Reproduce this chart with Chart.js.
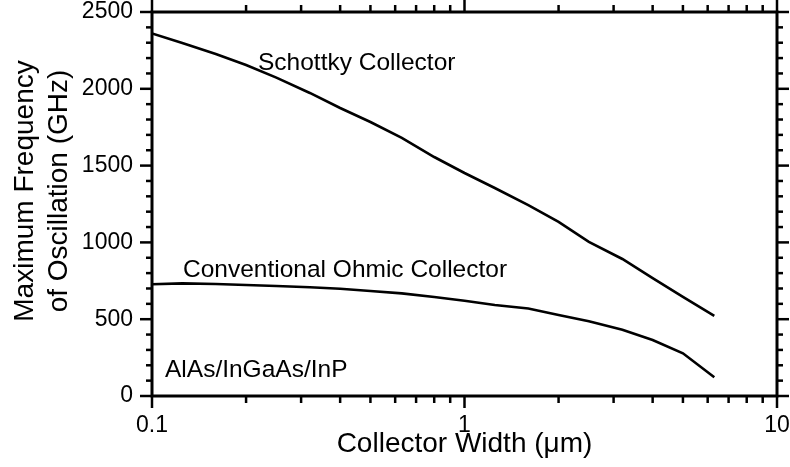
<!DOCTYPE html>
<html>
<head>
<meta charset="utf-8">
<script src="https://cdn.jsdelivr.net/npm/chart.js@4.4.1/dist/chart.umd.min.js"></script>
<style>
  html, body { margin: 0; padding: 0; background: #fff; }
  #wrap { width: 790px; height: 467px; }
</style>
</head>
<body>
<div id="wrap"><canvas id="c" width="790" height="467"></canvas></div>
<script>
// ---- data ----
const collectorWidth = [0.1, 0.125, 0.16, 0.2, 0.25, 0.32, 0.4, 0.5, 0.63, 0.8, 1.0, 1.25, 1.6, 2.0, 2.5, 3.2, 4.0, 5.0, 6.3];
const schottkyFmax   = [2360, 2298, 2227, 2155, 2073, 1973, 1875, 1784, 1680, 1556, 1452, 1354, 1243, 1133, 1003, 892, 768, 645, 521];
const ohmicFmax      = [728, 733, 729, 723, 716, 708, 698, 684, 668, 645, 620, 592, 570, 527, 487, 432, 365, 278, 122];
const xTickLabels = [0.1, 1, 10];
const yTickLabels = [0, 500, 1000, 1500, 2000, 2500];
const seriesNames = ['Schottky Collector', 'Conventional Ohmic Collector'];
const materialLabel = 'AlAs/InGaAs/InP';
const xTitle = 'Collector Width (\u03bcm)';
const yTitleLines = ['Maximum Frequency', 'of Oscillation (GHz)'];

const FONT = '"Liberation Sans", Arial, Helvetica, sans-serif';

function pts(xs, ys) { return xs.map((x, i) => ({ x: x, y: ys[i] })); }
function noPad(s) { s.paddingTop = 0; s.paddingBottom = 0; s.paddingLeft = 0; s.paddingRight = 0; }

const framePlugin = {
  id: 'framePlugin',
  afterDraw(chart) {
    const { ctx, chartArea: a } = chart;
    const x = chart.scales.x, y = chart.scales.y;
    ctx.save();
    ctx.strokeStyle = '#000';
    ctx.lineCap = 'butt';
    function seg(x1, y1, x2, y2) { ctx.beginPath(); ctx.moveTo(x1, y1); ctx.lineTo(x2, y2); ctx.stroke(); }
    // ticks
    ctx.lineWidth = 2.5;
    const yMax = yTickLabels[yTickLabels.length - 1];
    const yStep = yTickLabels[1] - yTickLabels[0];
    for (let v = 0; v <= yMax; v += yStep / 5) {
      const py = y.getPixelForValue(v);
      const major = Math.abs(v % yStep) < 1e-6;
      const len = major ? 12 : 6;
      seg(a.left - len, py, a.left, py);
      seg(a.right, py, a.right + len, py);
    }
    for (let d = 0; d < xTickLabels.length; d++) {
      const base = xTickLabels[d];
      const kmax = d === xTickLabels.length - 1 ? 1 : 9;
      for (let k = 1; k <= kmax; k++) {
        const px = x.getPixelForValue(base * k);
        const len = k === 1 ? 12 : 7;
        seg(px, a.bottom, px, a.bottom + len);
        seg(px, a.top - len, px, a.top);
      }
    }
    // frame
    ctx.lineWidth = 3;
    ctx.strokeRect(a.left, a.top, a.right - a.left, a.bottom - a.top);

    // annotations
    ctx.fillStyle = '#000';
    ctx.textBaseline = 'alphabetic';
    ctx.textAlign = 'left';
    ctx.font = '24.5px ' + FONT;
    ctx.fillText(seriesNames[0], 258, 70);
    ctx.fillText(seriesNames[1], 183, 277);
    ctx.fillText(materialLabel, 165, 377);

    // axis titles
    ctx.font = '28px ' + FONT;
    ctx.textAlign = 'center';
    ctx.fillText(xTitle, (a.left + a.right) / 2, 452);
    ctx.save();
    ctx.translate(33, 191);
    ctx.rotate(-Math.PI / 2);
    ctx.fillText(yTitleLines[0], 0, 0);
    ctx.fillText(yTitleLines[1], 0, 34);
    ctx.restore();
    ctx.restore();
  }
};

const noGrid = { display: false, drawTicks: false, tickLength: 0, drawOnChartArea: false };

new Chart(document.getElementById('c'), {
  type: 'line',
  data: {
    datasets: [
      { label: seriesNames[0], data: pts(collectorWidth, schottkyFmax), borderColor: '#000', borderWidth: 2.6, pointRadius: 0, tension: 0, fill: false },
      { label: seriesNames[1], data: pts(collectorWidth, ohmicFmax), borderColor: '#000', borderWidth: 2.6, pointRadius: 0, tension: 0, fill: false }
    ]
  },
  options: {
    responsive: false,
    animation: false,
    devicePixelRatio: 1,
    layout: { padding: 0 },
    plugins: { legend: { display: false }, tooltip: { enabled: false }, title: { display: false } },
    scales: {
      x: {
        type: 'logarithmic', position: 'bottom', min: 0.1, max: 10,
        grid: noGrid, border: { display: false },
        afterBuildTicks: s => { s.ticks = xTickLabels.map(v => ({ value: v })); },
        afterFit: s => { s.height = 71; noPad(s); },
        ticks: { color: '#000', font: { family: FONT, size: 23 }, padding: 16, maxRotation: 0, autoSkip: false,
          callback: v => String(v) }
      },
      x2: {
        type: 'logarithmic', position: 'top', min: 0.1, max: 10,
        grid: noGrid, border: { display: false }, ticks: { display: false },
        afterFit: s => { s.height = 12; noPad(s); }
      },
      y: {
        type: 'linear', position: 'left', min: 0, max: 2500,
        grid: noGrid, border: { display: false },
        afterBuildTicks: s => { s.ticks = yTickLabels.map(v => ({ value: v })); },
        afterFit: s => { s.width = 152; noPad(s); },
        ticks: { color: '#000', font: { family: FONT, size: 23 }, padding: 19, callback: v => String(v) }
      },
      y2: {
        type: 'linear', position: 'right', min: 0, max: 2500,
        grid: noGrid, border: { display: false }, ticks: { display: false },
        afterFit: s => { s.width = 13; noPad(s); }
      }
    }
  },
  plugins: [framePlugin]
});
</script>
</body>
</html>
